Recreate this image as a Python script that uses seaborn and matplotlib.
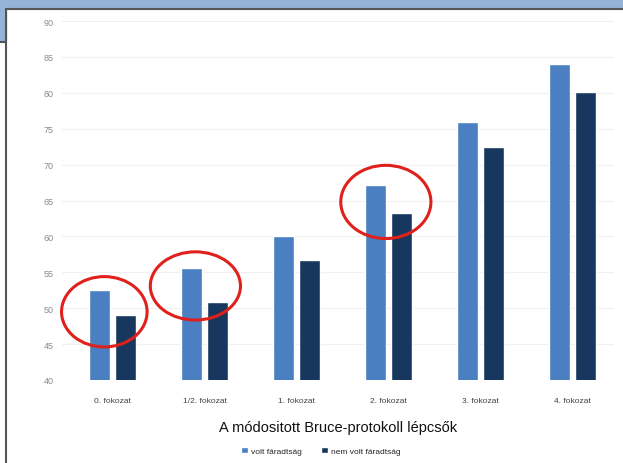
import matplotlib
matplotlib.use("Agg")
import matplotlib.pyplot as plt
from matplotlib.patches import Ellipse, Rectangle
import seaborn as sns
import pandas as pd

categories = ["0. fokozat", "1/2. fokozat", "1. fokozat", "2. fokozat", "3. fokozat", "4. fokozat"]
volt = [52.5, 55.6, 60.0, 67.2, 75.9, 84.0]
nem_volt = [49.0, 50.9, 56.7, 63.3, 72.4, 80.1]
series = ["volt fáradtság", "nem volt fáradtság"]
yticks = [40, 45, 50, 55, 60, 65, 70, 75, 80, 85, 90]

df = pd.DataFrame({
    "cat": categories * 2,
    "val": volt + nem_volt,
    "series": [series[0]] * len(categories) + [series[1]] * len(categories),
})

sns.set_theme(style="white")
plt.rcParams["font.family"] = ["Liberation Sans", "DejaVu Sans"]

fig = plt.figure(figsize=(6.23, 4.64), dpi=100)
W, H = 623, 464

# frame decorations
fig.patches.append(Rectangle((0, 1 - 9 / H), 1, 9 / H, transform=fig.transFigure,
                             color="#95b3d7", zorder=0))
fig.patches.append(Rectangle((0, 1 - 42 / H), 6 / W, 42 / H, transform=fig.transFigure,
                             color="#95b3d7", zorder=0))
fig.lines.append(plt.Line2D([6 / W, 1], [1 - 9.5 / H, 1 - 9.5 / H], transform=fig.transFigure,
                            color="#555555", lw=1.5))
fig.lines.append(plt.Line2D([6 / W, 6 / W], [0, 1 - 9.5 / H], transform=fig.transFigure,
                            color="#555555", lw=1.5))
fig.lines.append(plt.Line2D([0, 6 / W], [1 - 42.5 / H, 1 - 42.5 / H], transform=fig.transFigure,
                            color="#555555", lw=1.5))

ax = fig.add_axes([62 / W, 83 / H, (614 - 62) / W, (442 - 83) / H])
sns.barplot(data=df, x="cat", y="val", hue="series", palette=["#4a7fc1", "#17375e"],
            width=0.565, gap=0.19, ax=ax, saturation=1, legend=True)

ax.set_ylim(40, 90)
ax.set_xlim(-0.55, 5.45)
ax.set_yticks(yticks)
ax.set_yticklabels([str(t) for t in yticks], fontsize=6.5, color="#8a8a8a")
ax.tick_params(axis="y", length=0, pad=6)
ax.tick_params(axis="x", length=0, pad=12, labelsize=6, labelcolor="#404040")
for y in yticks:
    ax.axhline(y, color="#f0f0f0", lw=0.8, zorder=0)
ax.set_axisbelow(True)
for s in ax.spines.values():
    s.set_visible(False)
ax.set_ylabel("")
ax.set_xlabel("A módositott Bruce-protokoll lépcsők", fontsize=10.5, color="#111111", labelpad=12)

# red ellipses
for (cx, cy, w, h) in [(-0.09, 49.5, 0.93, 9.8), (0.90, 53.1, 0.98, 9.5), (2.97, 64.8, 0.98, 10.2)]:
    ax.add_patch(Ellipse((cx, cy), w, h, fill=False, edgecolor="#e0201b", lw=2.2, zorder=5,
                         clip_on=False))

handles, labels = ax.get_legend_handles_labels()
ax.legend_.remove()
fig.legend(handles, labels, loc="center", bbox_to_anchor=(0.515, 12 / H), ncol=2,
           frameon=False, fontsize=6, handlelength=0.8, handleheight=0.8,
           columnspacing=2.4, handletextpad=0.3)

fig.savefig("out.png", dpi=100)
